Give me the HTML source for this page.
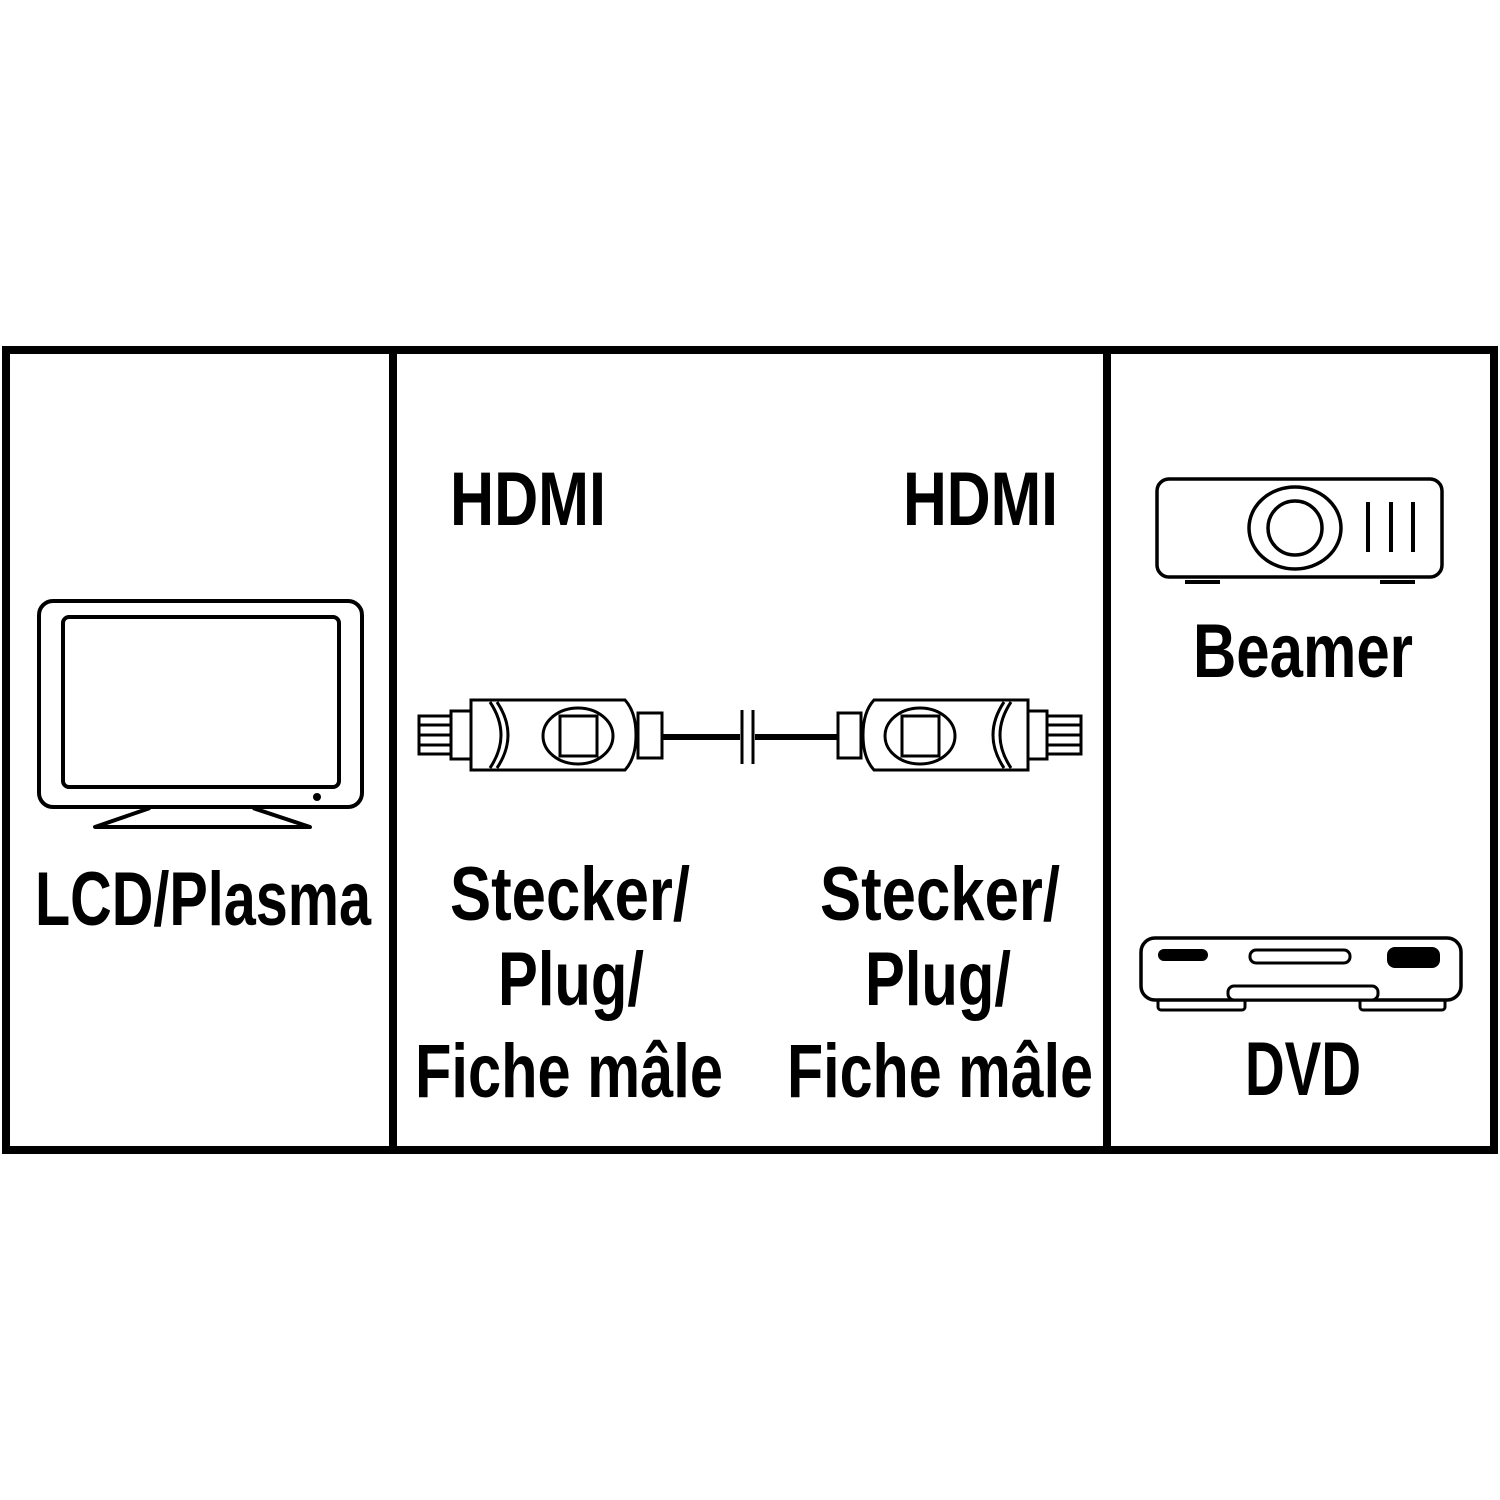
<!DOCTYPE html>
<html><head><meta charset="utf-8"><style>html,body{margin:0;padding:0;background:#fff}svg{display:block}</style></head>
<body>
<svg width="1500" height="1500" viewBox="0 0 1500 1500" xmlns="http://www.w3.org/2000/svg">
<rect width="1500" height="1500" fill="#fff"/>
<g fill="none" stroke="#000">
<rect x="6" y="350" width="1488" height="800" stroke-width="8"/>
<line x1="393" y1="350" x2="393" y2="1150" stroke-width="8"/>
<line x1="1107" y1="350" x2="1107" y2="1150" stroke-width="8"/>
<!-- TV -->
<rect x="39" y="601" width="323" height="206" rx="14" stroke-width="4"/>
<rect x="63" y="617" width="276" height="170" rx="6" stroke-width="4"/>
<path d="M150 808 L95 827 L310 827 L253 808" stroke-width="4" stroke-linejoin="round"/>
<!-- projector -->
<rect x="1157" y="479" width="285" height="98" rx="12" stroke-width="3.5"/>
<ellipse cx="1295" cy="528" rx="46" ry="41" stroke-width="3.5"/>
<circle cx="1295" cy="528" r="27" stroke-width="3.5"/>
<line x1="1368" y1="502" x2="1368" y2="552" stroke-width="4"/>
<line x1="1391" y1="502" x2="1391" y2="552" stroke-width="4"/>
<line x1="1413" y1="502" x2="1413" y2="552" stroke-width="4"/>
<line x1="1185" y1="582" x2="1220" y2="582" stroke-width="4"/>
<line x1="1380" y1="582" x2="1415" y2="582" stroke-width="4"/>
<!-- DVD -->
<rect x="1141" y="938" width="320" height="62" rx="14" stroke-width="3.5"/>
<rect x="1250" y="950" width="100" height="13" rx="6" stroke-width="3"/>
<rect x="1228" y="986" width="150" height="14" rx="6" stroke-width="3" fill="#fff"/>
<path d="M1158 1000 v7 a3 3 0 0 0 3 3 h81 a3 3 0 0 0 3 -3 v-7" stroke-width="3"/>
<path d="M1360 1000 v7 a3 3 0 0 0 3 3 h79 a3 3 0 0 0 3 -3 v-7" stroke-width="3"/>
<!-- HDMI cable -->
<g stroke-width="3">
<rect x="419" y="716" width="32" height="38"/>
<line x1="419" y1="725" x2="451" y2="725"/><line x1="419" y1="735" x2="451" y2="735"/><line x1="419" y1="745" x2="451" y2="745"/>
<rect x="451" y="711" width="20" height="48" fill="#fff"/>
<path d="M471 700 H625 Q636 712 636 735 Q636 758 625 770 H471 Z" fill="#fff"/>
<path d="M490 702 Q512 735 490 768"/><path d="M497 702 Q519 735 497 768"/>
<ellipse cx="578" cy="736" rx="35" ry="28"/>
<rect x="560" y="716" width="37" height="40"/>
<rect x="638" y="713" width="24" height="45"/>
<line x1="742" y1="710" x2="742" y2="764"/><line x1="753" y1="710" x2="753" y2="764"/>
<rect x="838" y="713" width="23" height="45"/>
<path d="M1028 700 H874 Q863 712 863 735 Q863 758 874 770 H1028 Z" fill="#fff"/>
<path d="M1011 702 Q989 735 1011 768"/><path d="M1004 702 Q982 735 1004 768"/>
<ellipse cx="920" cy="736" rx="35" ry="28"/>
<rect x="902" y="716" width="37" height="40"/>
<rect x="1028" y="711" width="19" height="48"/>
<rect x="1047" y="716" width="34" height="38"/>
<line x1="1047" y1="725" x2="1081" y2="725"/><line x1="1047" y1="735" x2="1081" y2="735"/><line x1="1047" y1="745" x2="1081" y2="745"/>
</g>
<line x1="662" y1="737" x2="740" y2="737" stroke-width="6"/>
<line x1="755" y1="737" x2="838" y2="737" stroke-width="6"/>
</g>
<circle cx="317" cy="797" r="4" fill="#000"/>
<rect x="1158" y="949" width="50" height="12" rx="6" fill="#000"/>
<rect x="1387" y="947" width="53" height="21" rx="8" fill="#000"/>
<g font-family="Liberation Sans, Arial, sans-serif" font-weight="bold" font-size="76" fill="#000" lengthAdjust="spacingAndGlyphs">
<text x="450" y="525" textLength="156" lengthAdjust="spacingAndGlyphs">HDMI</text>
<text x="903" y="525" textLength="155" lengthAdjust="spacingAndGlyphs">HDMI</text>
<text x="1193" y="677" textLength="220" lengthAdjust="spacingAndGlyphs">Beamer</text>
<text x="35" y="925" textLength="336" lengthAdjust="spacingAndGlyphs">LCD/Plasma</text>
<text x="450" y="920" textLength="240" lengthAdjust="spacingAndGlyphs">Stecker/</text>
<text x="498" y="1005" textLength="146" lengthAdjust="spacingAndGlyphs">Plug/</text>
<text x="415" y="1097" textLength="308" lengthAdjust="spacingAndGlyphs">Fiche mâle</text>
<text x="820" y="920" textLength="240" lengthAdjust="spacingAndGlyphs">Stecker/</text>
<text x="865" y="1005" textLength="146" lengthAdjust="spacingAndGlyphs">Plug/</text>
<text x="787" y="1097" textLength="306" lengthAdjust="spacingAndGlyphs">Fiche mâle</text>
<text x="1245" y="1095" textLength="116" lengthAdjust="spacingAndGlyphs">DVD</text>
</g>
</svg>
</body></html>
